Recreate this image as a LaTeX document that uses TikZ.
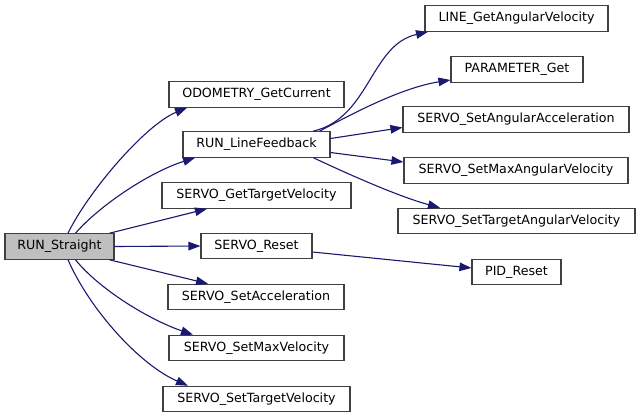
\documentclass[tikz,border=0pt]{standalone}
\usepackage{fontspec}
\setmainfont{DejaVu Sans}
\usetikzlibrary{arrows.meta}
\definecolor{edgeblue}{HTML}{191970}
\definecolor{boxline}{HTML}{404040}
\definecolor{curfill}{HTML}{BFBFBF}
\begin{document}
\begin{tikzpicture}[x=1bp,y=-1bp,
  fn/.style={draw=boxline, line width=1.1bp, fill=white, inner sep=0pt,
    minimum height=25.5bp, font=\fontsize{12.7}{14}\selectfont, anchor=center},
  cur/.style={fn, fill=curfill},
  edge/.style={draw=edgeblue, line width=1.1bp,
    -{Triangle[length=12bp,width=8.5bp]}, fill=none},
]
\useasboundingbox (0,0) rectangle (640,417);
\fill[white] (0,0) rectangle (640,417);
% left
\node[cur, minimum width=109bp] (rs) at (59.5,246.5) {RUN\_Straight};
% middle
\node[fn, minimum width=175bp] (odo) at (256.5,94.5) {ODOMETRY\_GetCurrent};
\node[fn, minimum width=147bp] (rlf) at (256.5,144.5) {RUN\_LineFeedback};
\node[fn, minimum width=189bp] (sgtv) at (256.5,195.5) {SERVO\_GetTargetVelocity};
\node[fn, minimum width=111bp] (sr) at (256.5,246) {SERVO\_Reset};
\node[fn, minimum width=176bp] (ssa) at (256,297) {SERVO\_SetAcceleration};
\node[fn, minimum width=175bp] (ssmv) at (256.5,348) {SERVO\_SetMaxVelocity};
\node[fn, minimum width=187bp] (sstv) at (256.5,399) {SERVO\_SetTargetVelocity};
% right
\node[fn, minimum width=183bp] (line) at (516.5,18.5) {LINE\_GetAngularVelocity};
\node[fn, minimum width=132bp] (param) at (517,69.5) {PARAMETER\_Get};
\node[fn, minimum width=226bp] (saa) at (516,119.5) {SERVO\_SetAngularAcceleration};
\node[fn, minimum width=224bp] (smav) at (516,170.5) {SERVO\_SetMaxAngularVelocity};
\node[fn, minimum width=237bp] (stav) at (516.5,221) {SERVO\_SetTargetAngularVelocity};
\node[fn, minimum width=89bp] (pid) at (516.5,272) {PID\_Reset};
% edges from RUN_Straight
\draw[edge] ([xshift=8.5bp]rs.north) .. controls (88,192) and (145,125) .. ([xshift=-69.5bp]odo.south);
\draw[edge] ([xshift=16bp]rs.north) .. controls (100,205) and (150,172) .. ([xshift=-61.5bp]rlf.south);
\draw[edge] ([xshift=50bp]rs.north) -- ([xshift=-49.5bp]sgtv.south);
\draw[edge] (rs.east) -- (sr.west);
\draw[edge] ([xshift=50bp]rs.south) -- ([xshift=-48bp]ssa.north);
\draw[edge] ([xshift=16bp]rs.south) .. controls (100,290) and (150,320) .. ([xshift=-63.5bp]ssmv.north);
\draw[edge] ([xshift=8.5bp]rs.south) .. controls (90,310) and (140,365) .. ([xshift=-68.5bp]sstv.north);
% edges from RUN_LineFeedback
\draw[edge] ([xshift=56.5bp]rlf.north) .. controls (370,118) and (370,45) .. ([xshift=-88.5bp]line.south);
\draw[edge] ([xshift=63bp]rlf.north) .. controls (350,115) and (400,88) .. ([yshift=-10.5bp]param.west);
\draw[edge] ([yshift=6bp]rlf.east) -- ([yshift=-8bp]saa.west);
\draw[edge] ([yshift=-8bp]rlf.east) -- ([yshift=8.5bp]smav.west);
\draw[edge] ([xshift=57bp]rlf.south) .. controls (350,175) and (400,197) .. ([xshift=-76.5bp]stav.north);
% SERVO_Reset
\draw[edge] ([yshift=-6bp]sr.east) -- ([yshift=4bp]pid.west);
\end{tikzpicture}
\end{document}
